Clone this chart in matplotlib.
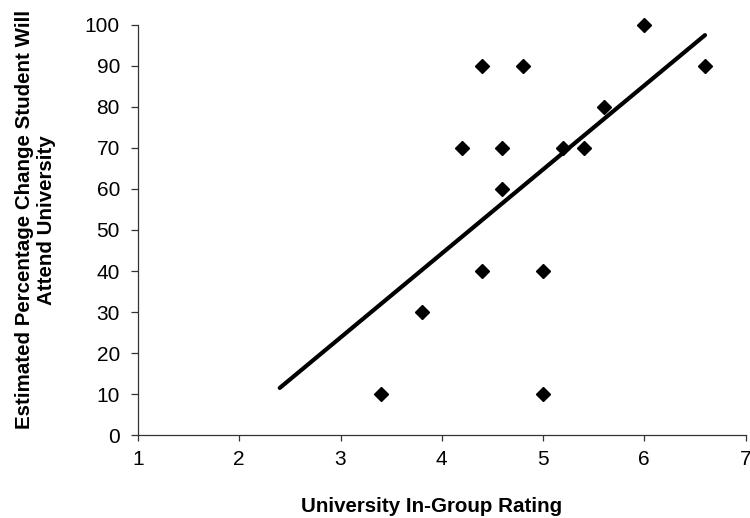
import matplotlib.pyplot as plt

plt.rcParams['font.family'] = ['Liberation Sans', 'DejaVu Sans']

# data
rating = [3.4, 3.8, 4.2, 4.4, 4.4, 4.6, 4.6, 4.8, 5.0, 5.0, 5.2, 5.4, 5.6, 6.0, 6.6]
chance = [10, 30, 70, 90, 40, 70, 60, 90, 40, 10, 70, 70, 80, 100, 90]

# trend line end points
trend_x = [2.4, 6.6]
trend_y = [11.5, 97.5]

fig = plt.figure(figsize=(7.5, 5.18), dpi=100)
ax = fig.add_axes([0.184, 0.160, 0.810, 0.792])

ax.plot(trend_x, trend_y, '-k', lw=3, solid_capstyle='round')
ax.plot(rating, chance, 'kD', ms=7, ls='none', clip_on=False, zorder=3)

ax.set_xlim(1, 7)
ax.set_ylim(0, 100)
ax.set_xticks(range(1, 8))
ax.set_yticks(range(0, 101, 10))

for s in ['top', 'right']:
    ax.spines[s].set_visible(False)
for s in ['left', 'bottom']:
    ax.spines[s].set_linewidth(0.9)
    ax.spines[s].set_color('#333333')

ax.tick_params(direction='out', length=5, width=0.9, color='#333333', labelsize=15)
ax.tick_params(axis='x', pad=6, length=4.5)
ax.tick_params(axis='y', pad=8)

ax.set_xlabel('University In-Group Rating', fontsize=14.8, fontweight='bold')
ax.set_ylabel('Estimated Percentage Change Student Will\nAttend University', fontsize=14.8,
              fontweight='bold')
ax.xaxis.set_label_coords(0.484, -0.152)
ax.yaxis.set_label_coords(-0.135, 0.525)

fig.savefig('out.png', dpi=100)
